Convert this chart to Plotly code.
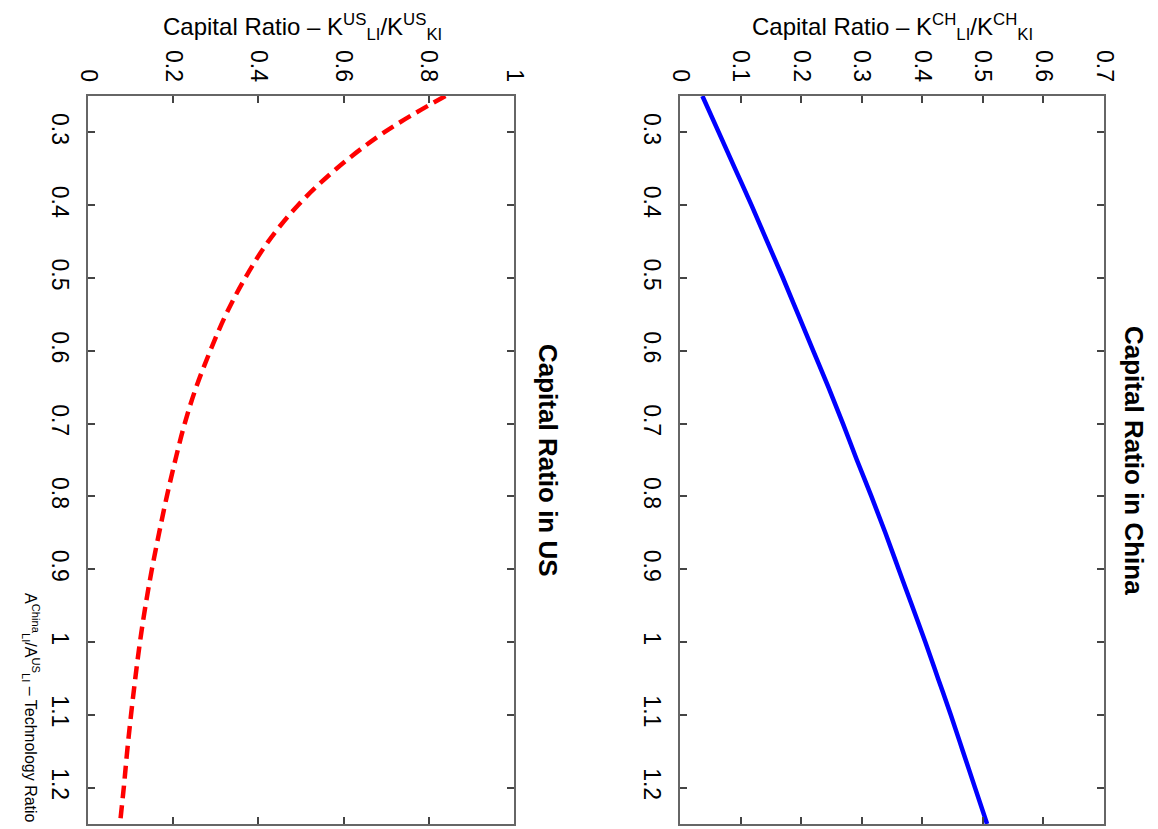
import plotly.graph_objects as go

# Technology ratio (A_LI^China / A_LI^US)
tech_ratio = [0.25, 0.30, 0.35, 0.40, 0.45, 0.50, 0.55, 0.60, 0.65, 0.70, 0.75,
              0.80, 0.85, 0.90, 0.95, 1.00, 1.05, 1.10, 1.15, 1.20, 1.25]
# Capital ratio in China K_LI^CH / K_KI^CH
capital_china = [0.037, 0.064, 0.091, 0.118, 0.144, 0.170, 0.195, 0.220, 0.245, 0.269, 0.292,
                 0.316, 0.339, 0.361, 0.383, 0.405, 0.426, 0.447, 0.467, 0.487, 0.507]
# Capital ratio in US K_LI^US / K_KI^US
capital_us = [0.839, 0.695, 0.583, 0.493, 0.423, 0.369, 0.324, 0.287, 0.254, 0.227, 0.205,
              0.185, 0.167, 0.150, 0.135, 0.122, 0.111, 0.101, 0.092, 0.084, 0.075]

china_ticks = [0, 0.1, 0.2, 0.3, 0.4, 0.5, 0.6, 0.7]
china_tick_text = ["0", "0.1", "0.2", "0.3", "0.4", "0.5", "0.6", "0.7"]
us_ticks = [0, 0.2, 0.4, 0.6, 0.8, 1.0]
us_tick_text = ["0", "0.2", "0.4", "0.6", "0.8", "1"]
tech_ticks = [0.3, 0.4, 0.5, 0.6, 0.7, 0.8, 0.9, 1.0, 1.1, 1.2]
tech_tick_text = ["0.3", "0.4", "0.5", "0.6", "0.7", "0.8", "0.9", "1", "1.1", "1.2"]

W, H = 1158, 829
FONT = "Arial, Liberation Sans, sans-serif"

fig = go.Figure()
fig.add_trace(go.Scatter(x=capital_us, y=tech_ratio, mode="lines",
                         line=dict(color="#FF0000", width=4.5, dash="13px,7px", shape="spline"),
                         xaxis="x", yaxis="y", showlegend=False))
fig.add_trace(go.Scatter(x=capital_china, y=tech_ratio, mode="lines",
                         line=dict(color="#0000FF", width=4.5, shape="spline"),
                         xaxis="x2", yaxis="y2", showlegend=False))


def px_x(p):
    return p / W


def px_y(p):
    return 1 - p / H


ydom = [px_y(824), px_y(96)]

axis_common = dict(showline=True, linecolor="#666666", linewidth=1.8, mirror="ticks",
                   ticks="inside", ticklen=7, tickwidth=1.5, tickcolor="#444444",
                   showgrid=False, zeroline=False, tickangle=90, automargin=False,
                   tickfont=dict(family=FONT, size=23, color="black"))

fig.update_layout(
    width=W, height=H,
    margin=dict(l=0, r=0, t=0, b=0),
    paper_bgcolor="white", plot_bgcolor="white",
    xaxis=dict(domain=[px_x(88), px_x(514)], range=[0, 1], side="top",
               tickvals=us_ticks, ticktext=us_tick_text, anchor="y",
               ticklabelstandoff=4, **axis_common),
    yaxis=dict(domain=ydom, range=[1.25, 0.25], tickvals=tech_ticks,
               ticktext=tech_tick_text, anchor="x", ticklabelstandoff=6, **axis_common),
    xaxis2=dict(domain=[px_x(680), px_x(1104)], range=[0, 0.7], side="top",
                tickvals=china_ticks, ticktext=china_tick_text, anchor="y2",
                ticklabelstandoff=4, **axis_common),
    yaxis2=dict(domain=ydom, range=[1.25, 0.25], tickvals=tech_ticks,
                ticktext=tech_tick_text, anchor="x2", ticklabelstandoff=6, **axis_common),
)

annotations = [
    dict(text="Capital Ratio – K<sup>US</sup><sub>LI</sub>/K<sup>US</sup><sub>KI</sub>",
         x=px_x(302), y=px_y(27), font=dict(family=FONT, size=24, color="black")),
    dict(text="Capital Ratio – K<sup>CH</sup><sub>LI</sub>/K<sup>CH</sup><sub>KI</sub>",
         x=px_x(892), y=px_y(27), font=dict(family=FONT, size=24, color="black")),
    dict(text="<b>Capital Ratio in China</b>", textangle=90,
         x=px_x(1134), y=px_y(460), font=dict(family=FONT, size=26, color="black")),
    dict(text="<b>Capital Ratio in US</b>", textangle=90,
         x=px_x(548), y=px_y(460), font=dict(family=FONT, size=26, color="black")),
    dict(text="A<sup>China</sup><sub>LI</sub>/A<sup>US</sup><sub>LI</sub> – Technology Ratio",
         textangle=90, x=px_x(31), y=px_y(708),
         font=dict(family=FONT, size=16, color="black")),
]
for a in annotations:
    a.update(xref="paper", yref="paper", showarrow=False, xanchor="center", yanchor="middle")
fig.update_layout(annotations=annotations)

fig.write_html("out.html", config={"displayModeBar": False},
               post_script="document.body.style.margin='0';document.body.style.overflow='hidden';")
